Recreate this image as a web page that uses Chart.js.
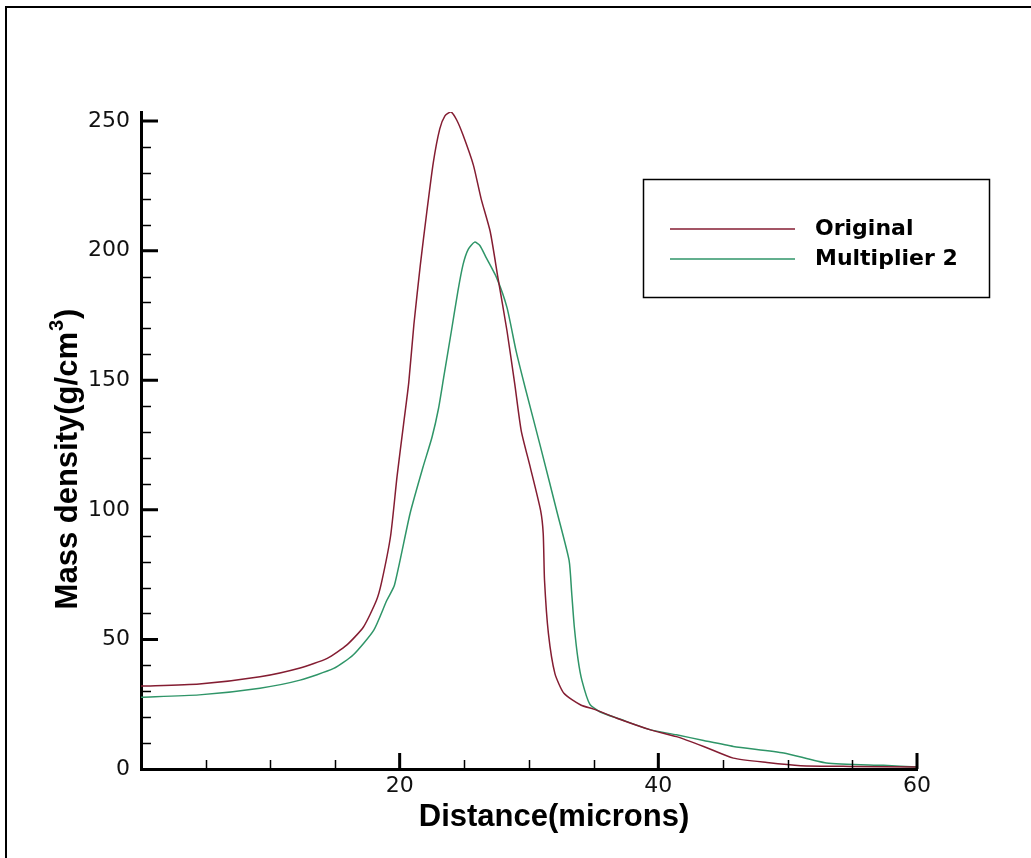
<!DOCTYPE html>
<html>
<head>
<meta charset="utf-8">
<script src="https://cdn.jsdelivr.net/npm/chart.js@4.4.1/dist/chart.umd.min.js"></script>
<style>
  html, body { margin: 0; padding: 0; background: #ffffff; }
  #wrap { width: 1031px; height: 858px; position: relative; }
</style>
</head>
<body>
<div id="wrap"><canvas id="c" width="1031" height="858"></canvas></div>
<script>
// ---- Data ----
const seriesNames = ['Original', 'Multiplier 2'];

const originalX = [0, 4.5, 9.2, 12.3, 14.4, 15.9, 17.2, 18.2, 18.6, 19.3, 19.8, 20.3, 20.7, 21.1, 21.6, 22.1, 22.6, 23.1, 23.5, 23.95, 24.4, 24.9, 25.7, 26.3, 27.0, 27.6, 28.3, 28.9, 29.4, 30.1, 30.9, 31.1, 31.2, 31.5, 32.0, 32.7, 34.0, 35.0, 36.8, 39.4, 41.4, 43.5, 45.8, 48.4, 51.0, 54.8, 60];
const originalY = [32.0, 32.8, 35.6, 39.0, 42.7, 47.8, 54.8, 65, 72, 90, 113, 133, 149, 171.5, 194.6, 215, 234, 247, 252, 253.6, 250.5, 244.6, 233, 220, 207.4, 189.5, 169, 148.5, 130.5, 116.4, 99.7, 90.8, 72.8, 52.3, 36.9, 29.2, 24.7, 23.1, 19.6, 15.1, 12.5, 8.7, 4.2, 2.5, 1.3, 1.0, 0.8];

const multX = [0, 4.5, 9.2, 12.3, 14.9, 16.4, 18.0, 19.0, 19.6, 20.8, 21.8, 22.5, 23.0, 23.4, 24.0, 24.5, 24.9, 25.3, 25.8, 26.2, 26.7, 27.5, 28.3, 29.0, 29.7, 30.9, 32.2, 33.1, 33.3, 33.5, 33.8, 34.1, 34.7, 35.5, 37.0, 39.4, 41.4, 43.5, 45.8, 49.7, 53.0, 57.4, 60];
const multY = [27.7, 28.6, 31.2, 34.3, 38.8, 44, 53.6, 65, 71, 98.5, 116.4, 128, 139, 151, 169, 184.3, 194.6, 200.5, 203.3, 202, 197.2, 189.5, 178, 161.3, 147.2, 124.1, 98.5, 80.5, 68, 55, 42, 34, 25, 22, 19.3, 15.1, 13.2, 11, 8.7, 6.2, 2.3, 1.4, 0.8];

const xMajorTicks = [20, 40, 60];
const xMinorTicks = [5, 10, 15, 25, 30, 35, 45, 50, 55];
const yMajorTicks = [0, 50, 100, 150, 200, 250];
const yMinorTicks = [10, 20, 30, 40, 60, 70, 80, 90, 110, 120, 130, 140, 160, 170, 180, 190, 210, 220, 230, 240];

const xTitle = 'Distance(microns)';
const yTitleMain = 'Mass density(g/cm';
const yTitleSup = '3';
const yTitleEnd = ')';

const colors = ['#841d32', '#2f9568'];

function toPoints(xs, ys) { return xs.map((x, i) => ({ x: x, y: ys[i] })); }

const decor = {
  id: 'decor',
  afterDraw(chart) {
    const ctx = chart.ctx;
    const xs = chart.scales.x, ys = chart.scales.y;
    const ca = chart.chartArea;
    ctx.save();
    // outer frame (left and top edges)
    ctx.strokeStyle = '#000';
    ctx.lineWidth = 2;
    ctx.beginPath();
    ctx.moveTo(6, 858); ctx.lineTo(6, 7); ctx.lineTo(1031, 7);
    ctx.stroke();

    // inward ticks
    ctx.strokeStyle = '#000';
    ctx.lineCap = 'butt';
    ctx.lineWidth = 3;
    ctx.beginPath();
    xMajorTicks.forEach(v => { const p = xs.getPixelForValue(v); ctx.moveTo(p, ca.bottom); ctx.lineTo(p, ca.bottom - 16); });
    yMajorTicks.forEach(v => { if (v === 0) return; const p = ys.getPixelForValue(v); ctx.moveTo(ca.left, p); ctx.lineTo(ca.left + 17, p); });
    ctx.stroke();
    ctx.lineWidth = 1.5;
    ctx.beginPath();
    xMinorTicks.forEach(v => { const p = Math.round(xs.getPixelForValue(v)) + 0.5; ctx.moveTo(p, ca.bottom); ctx.lineTo(p, ca.bottom - 9); });
    yMinorTicks.forEach(v => { const p = Math.round(ys.getPixelForValue(v)) + 0.5; ctx.moveTo(ca.left, p); ctx.lineTo(ca.left + 10, p); });
    ctx.stroke();

    // x title
    ctx.fillStyle = '#000';
    ctx.font = 'bold 31px "Liberation Sans", Arial, sans-serif';
    ctx.textAlign = 'center';
    ctx.textBaseline = 'alphabetic';
    ctx.fillText(xTitle, 554, 826);

    // y title (rotated) with superscript
    ctx.save();
    ctx.translate(77, 460);
    ctx.rotate(-Math.PI / 2);
    ctx.textAlign = 'left';
    const fMain = 'bold 31px "Liberation Sans", Arial, sans-serif';
    const fSup = 'bold 20px "Liberation Sans", Arial, sans-serif';
    ctx.font = fMain; const w1 = ctx.measureText(yTitleMain).width; const w3 = ctx.measureText(yTitleEnd).width;
    ctx.font = fSup; const w2 = ctx.measureText(yTitleSup).width;
    let x0 = -(w1 + w2 + w3) / 2;
    ctx.font = fMain; ctx.fillText(yTitleMain, x0, 0);
    ctx.font = fSup; ctx.fillText(yTitleSup, x0 + w1 + 1, -14);
    ctx.font = fMain; ctx.fillText(yTitleEnd, x0 + w1 + w2 + 2, 0);
    ctx.restore();

    // legend box
    ctx.lineWidth = 1.5;
    ctx.strokeStyle = '#000';
    ctx.strokeRect(643.5, 179.5, 346, 118);
    ctx.font = 'bold 22px "DejaVu Sans", sans-serif';
    ctx.textAlign = 'left';
    ctx.textBaseline = 'middle';
    chart.data.datasets.forEach((ds, i) => {
      const y = 229 + i * 30;
      ctx.strokeStyle = ds.borderColor;
      ctx.lineWidth = 1.5;
      ctx.beginPath(); ctx.moveTo(670, y); ctx.lineTo(795, y); ctx.stroke();
      ctx.fillStyle = '#000';
      ctx.fillText(ds.label, 815, y);
    });
    ctx.restore();
  }
};

new Chart(document.getElementById('c'), {
  type: 'line',
  data: {
    datasets: [
      { label: seriesNames[0], data: toPoints(originalX, originalY), borderColor: colors[0], borderWidth: 1.5, pointRadius: 0, tension: 0.2, fill: false },
      { label: seriesNames[1], data: toPoints(multX, multY), borderColor: colors[1], borderWidth: 1.5, pointRadius: 0, tension: 0.2, fill: false }
    ]
  },
  options: {
    responsive: false,
    animation: false,
    events: [],
    layout: { padding: { left: 0, right: 114, top: 112, bottom: 0 } },
    plugins: { legend: { display: false }, tooltip: { enabled: false } },
    scales: {
      x: {
        type: 'linear', min: 0, max: 60,
        grid: { display: false, drawTicks: false },
        border: { display: true, color: '#000', width: 3 },
        afterBuildTicks: s => { s.ticks = xMajorTicks.map(v => ({ value: v })); },
        afterFit: s => { s.height = 89; },
        ticks: { padding: 4, color: '#111', font: { family: '"DejaVu Sans", sans-serif', size: 22 }, maxRotation: 0, autoSkip: false, callback: v => String(v) }
      },
      y: {
        type: 'linear', min: 0, max: 253.5,
        grid: { display: false, drawTicks: false },
        border: { display: true, color: '#000', width: 3 },
        afterBuildTicks: s => { s.ticks = yMajorTicks.map(v => ({ value: v })); },
        afterFit: s => { s.width = 141; },
        ticks: { padding: 11, color: '#111', font: { family: '"DejaVu Sans", sans-serif', size: 22 }, autoSkip: false, callback: v => String(v) }
      }
    }
  },
  plugins: [decor]
});
</script>
</body>
</html>
